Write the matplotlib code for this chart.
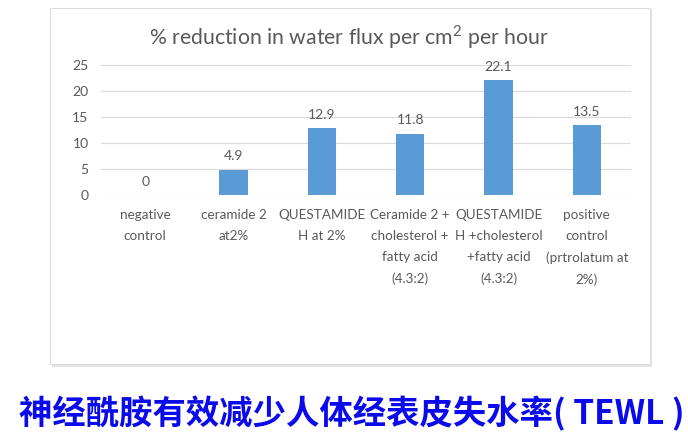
import matplotlib.pyplot as plt
from matplotlib.patches import Rectangle

# datos del grafico
categorias = [
    "negative\ncontrol",
    "ceramide 2\nat2%",
    "QUESTAMIDE\nH at 2%",
    "Ceramide 2 +\ncholesterol +\nfatty acid\n(4.3:2)",
    "QUESTAMIDE\nH +cholesterol\n+fatty acid\n(4.3:2)",
    "positive\ncontrol\n(prtrolatum at\n2%)",
]
valores = [0, 4.9, 12.9, 11.8, 22.1, 13.5]
yticks = [0, 5, 10, 15, 20, 25]
titulo = "% reduction in water flux per cm$^2$ per hour"
pie = "神经酰胺有效减少人体经表皮失水率( TEWL )"

W, H = 688, 442
gris = "#595959"
azul = "#5B9BD5"

plt.rcParams['font.family'] = ['Lato', 'DejaVu Sans']
plt.rcParams['mathtext.fontset'] = 'custom'
plt.rcParams['mathtext.rm'] = 'Lato'

fig = plt.figure(figsize=(W / 100, H / 100), dpi=100)

# tarjeta con sombra
fig.patches.append(Rectangle((52 / W, 1 - 367 / H), 600 / W, 358 / H,
                             transform=fig.transFigure, facecolor="#E4E4E4",
                             edgecolor="none", zorder=-2))
fig.patches.append(Rectangle((50 / W, 1 - 364 / H), 600 / W, 356 / H,
                             transform=fig.transFigure, facecolor="white",
                             edgecolor="#DCDCDC", linewidth=0.8, zorder=-1))

ax = fig.add_axes([101 / W, 1 - 195 / H, 530 / W, 130 / H])
ax.set_zorder(1)
ax.set_facecolor("none")
x = range(len(valores))
ax.bar(x, valores, width=0.32, color=azul, zorder=2)
for xi, v in zip(x, valores):
    ax.text(xi, v + 1.4, f"{v:g}", ha="center", va="bottom", fontsize=10, color=gris)

ax.set_xlim(-0.5, len(valores) - 0.5)
ax.set_ylim(0, 25)
ax.set_yticks(yticks)
ax.set_yticklabels([str(t) for t in yticks], fontsize=10, color=gris)
ax.set_xticks(list(x))
ax.set_xticklabels(categorias, fontsize=9.7, color=gris, linespacing=1.9)
ax.tick_params(length=0, pad=10)
ax.tick_params(axis="y", pad=9)
ax.grid(axis="y", color="#D9D9D9", linewidth=0.8, zorder=0)
for s in ax.spines.values():
    s.set_visible(False)

fig.text(349 / W, 1 - 37 / H, titulo, ha="center", va="center", fontsize=15.3, color=gris)
fig.text(352 / W, 1 - 414 / H, pie, ha="center", va="center", fontsize=24,
         fontweight="bold", color="#0A0AEB",
         family=['Noto Sans CJK SC', 'DejaVu Sans'])

fig.savefig("out.png", dpi=100)
